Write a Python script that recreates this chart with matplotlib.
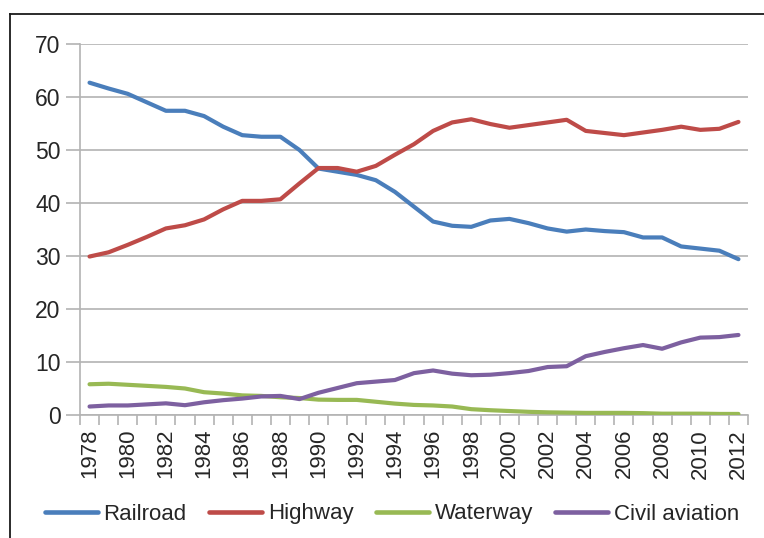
import matplotlib
matplotlib.use("Agg")
import matplotlib.pyplot as plt
from matplotlib.lines import Line2D
import numpy as np

years = list(range(1978, 2013))
railroad = [62.7, 61.6, 60.6, 59.0, 57.4, 57.4, 56.4, 54.4, 52.8, 52.5, 52.5, 50.0,
            46.5, 45.9, 45.3, 44.3, 42.1, 39.3, 36.5, 35.7, 35.5, 36.7, 37.0, 36.2,
            35.2, 34.6, 35.0, 34.7, 34.5, 33.5, 33.5, 31.8, 31.4, 31.0, 29.4]
highway = [29.9, 30.7, 32.1, 33.6, 35.2, 35.8, 36.9, 38.8, 40.4, 40.4, 40.7, 43.7,
           46.6, 46.6, 45.9, 47.0, 49.1, 51.1, 53.6, 55.2, 55.8, 54.9, 54.2, 54.7,
           55.2, 55.7, 53.6, 53.2, 52.8, 53.3, 53.8, 54.4, 53.8, 54.0, 55.3]
waterway = [5.8, 5.9, 5.7, 5.5, 5.3, 5.0, 4.3, 4.05, 3.7, 3.6, 3.35, 3.2,
            2.9, 2.85, 2.85, 2.5, 2.15, 1.9, 1.8, 1.6, 1.1, 0.9, 0.75, 0.6,
            0.5, 0.45, 0.4, 0.4, 0.4, 0.35, 0.25, 0.25, 0.25, 0.2, 0.2]
aviation = [1.6, 1.8, 1.8, 2.0, 2.2, 1.85, 2.4, 2.8, 3.1, 3.5, 3.6, 3.0,
            4.2, 5.1, 6.0, 6.3, 6.6, 7.9, 8.4, 7.8, 7.5, 7.6, 7.9, 8.3,
            9.05, 9.2, 11.1, 11.9, 12.6, 13.2, 12.5, 13.7, 14.6, 14.7, 15.1]
series_names = ["Railroad", "Highway", "Waterway", "Civil aviation"]
colors = ["#4A7EBB", "#BE4B48", "#98B954", "#7D60A0"]
y_ticks = [0, 10, 20, 30, 40, 50, 60, 70]

plt.rcParams['font.family'] = ['Liberation Sans', 'DejaVu Sans']
fig = plt.figure(figsize=(7.64, 5.38), dpi=100)
fig.patch.set_facecolor("white")
ax = fig.add_axes([80/764, 1-415/538, (748-80)/764, (415-44)/538])

grid_c = "#B3B3B3"
for yt in y_ticks:
    ax.axhline(yt, color=grid_c, lw=1.2, zorder=1)

x = np.arange(len(years))
for vals, name, c in zip([railroad, highway, waterway, aviation], series_names, colors):
    ax.plot(x, vals, color=c, lw=3.0, solid_capstyle="round", solid_joinstyle="round", label=name, zorder=3)

ax.set_xlim(-0.5, len(years) - 0.5)
ax.set_ylim(0, 70)
ax.set_yticks(y_ticks)
ax.set_yticklabels([str(v) for v in y_ticks], fontsize=16.5, color="#262626")
ax.set_xticks(x[::2])
ax.set_xticklabels([str(y) for y in years[::2]], rotation=90, fontsize=16, color="#262626")
ax.tick_params(axis="x", length=0, pad=10)
ax.set_xticks(np.arange(-0.5, len(years), 1), minor=True)
ax.tick_params(axis="x", which="minor", length=7, color=grid_c, width=1.2)
ax.tick_params(axis="y", length=10, color=grid_c, width=1.2, pad=4)

for s in ["top", "right"]:
    ax.spines[s].set_visible(False)
for s in ["left", "bottom"]:
    ax.spines[s].set_color(grid_c)
    ax.spines[s].set_linewidth(1.2)

handles = [Line2D([0], [0], color=c, lw=3.3, solid_capstyle="round") for c in colors]
fig.legend(handles, series_names, loc="center", bbox_to_anchor=(392/764, 1-514/538), ncol=4,
           frameon=False, fontsize=16, handlelength=2.4, handletextpad=0.25, columnspacing=1.0,
           labelcolor="#262626")

# frame lines
fig.add_artist(Line2D([10/764, 1], [1-14/538, 1-14/538], color="#1a1a1a", lw=1.3, transform=fig.transFigure))
fig.add_artist(Line2D([10/764, 10/764], [0, 1-14/538], color="#1a1a1a", lw=1.3, transform=fig.transFigure))

fig.savefig("out.png", dpi=100)
